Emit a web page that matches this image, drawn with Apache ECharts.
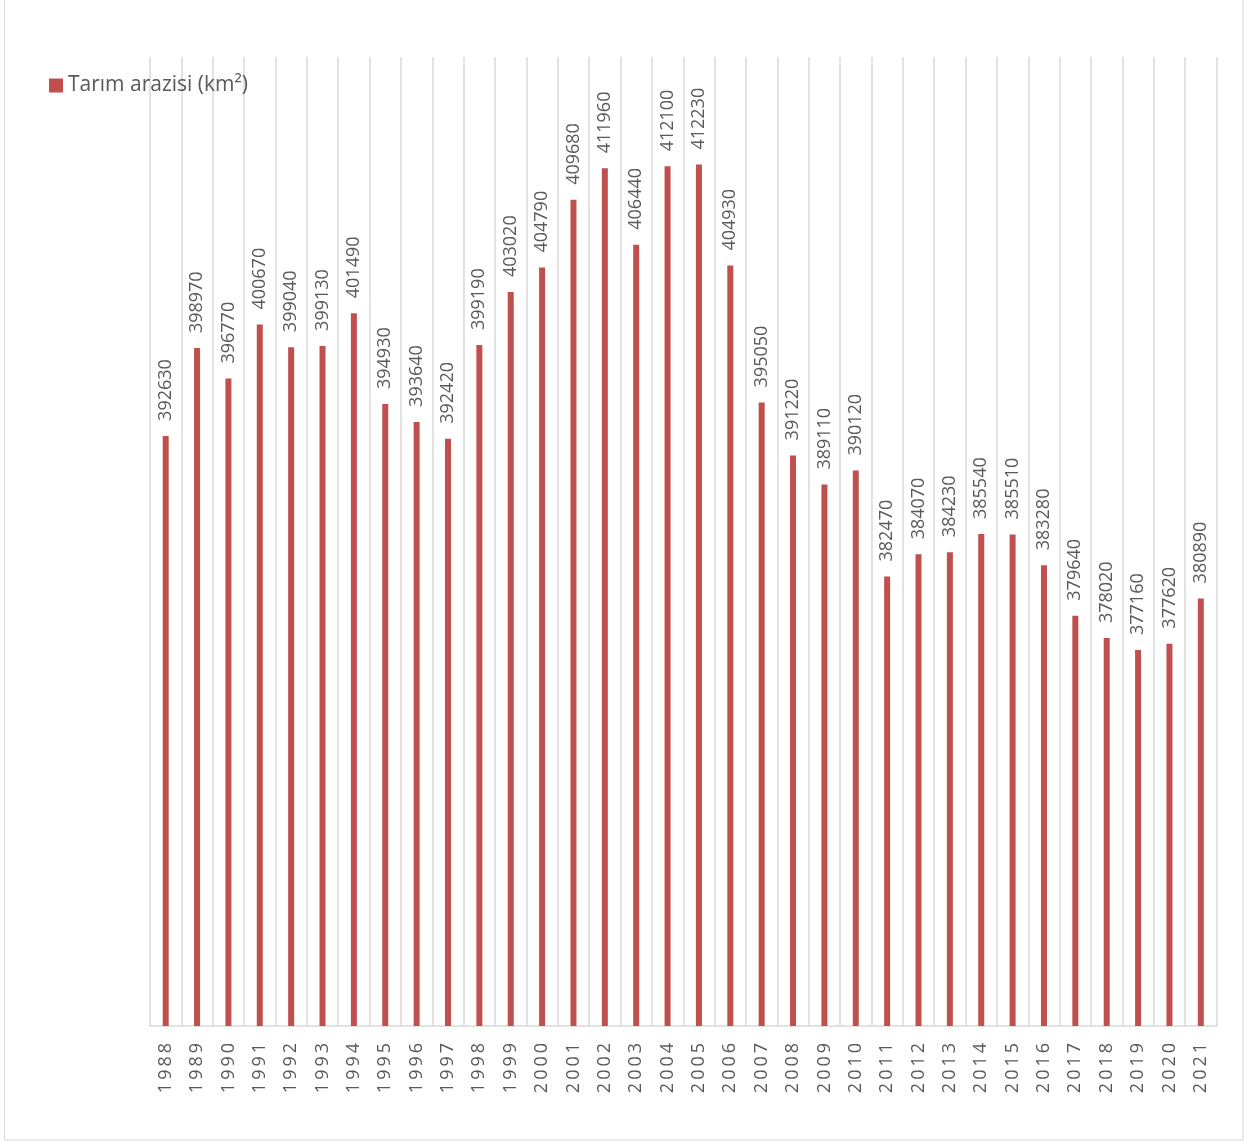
<!DOCTYPE html>
<html>
<head>
<meta charset="utf-8">
<script src="https://cdn.jsdelivr.net/npm/echarts@6/dist/echarts.min.js"></script>
<style>
html,body{margin:0;padding:0;background:#fff;}
#chart{width:1249px;height:1141px;}
</style>
</head>
<body>
<div id="chart"></div>
<script>
const years = ['1988','1989','1990','1991','1992','1993','1994','1995','1996','1997','1998','1999','2000','2001','2002','2003','2004','2005','2006','2007','2008','2009','2010','2011','2012','2013','2014','2015','2016','2017','2018','2019','2020','2021'];
const tarimArazisi = [392630,398970,396770,400670,399040,399130,401490,394930,393640,392420,399190,403020,404790,409680,411960,406440,412100,412230,404930,395050,391220,389110,390120,382470,384070,384230,385540,385510,383280,379640,378020,377160,377620,380890];
const seriesName = 'Tarım arazisi (km²)';
const yMin = 350000, yMax = 420000;

const chart = echarts.init(document.getElementById('chart'), null, {renderer:'canvas'});
const font = '"Open Sans", "Noto Sans", sans-serif';
chart.setOption({
  animation:false,
  backgroundColor:'#fff',
  textStyle:{fontFamily:font},
  graphic:[{type:'rect',shape:{x:4.5,y:-2,width:1238.5,height:1142},style:{fill:'none',stroke:'#d9d9d9',lineWidth:1},silent:true}],
  legend:{
    left:49, top:75, padding:0, itemWidth:14, itemHeight:14, itemGap:10,
    icon:'rect',
    textStyle:{fontSize:21,color:'#595959',fontFamily:font},
    data:[seriesName]
  },
  grid:{left:150,right:32.5,top:57,bottom:115,containLabel:false},
  xAxis:{
    type:'category', data:years, boundaryGap:true,
    axisLine:{show:true,lineStyle:{color:'#d9d9d9',width:1.5}},
    axisTick:{show:false},
    splitLine:{show:true,lineStyle:{color:'#d9d9d9',width:1.5}},
    axisLabel:{rotate:90,interval:0,margin:17,fontSize:18,color:'#595959',fontFamily:font,
      formatter:v=>v.split('').join('\u2009')}
  },
  yAxis:{type:'value',min:yMin,max:yMax,show:false,splitLine:{show:false}},
  series:[{
    name:seriesName,type:'bar',data:tarimArazisi,barWidth:6,
    itemStyle:{color:'#c0504d'},
    label:{show:true,position:'top',rotate:90,align:'left',verticalAlign:'middle',distance:15,
      fontSize:18,color:'#595959',fontFamily:font}
  }]
});
</script>
</body>
</html>
